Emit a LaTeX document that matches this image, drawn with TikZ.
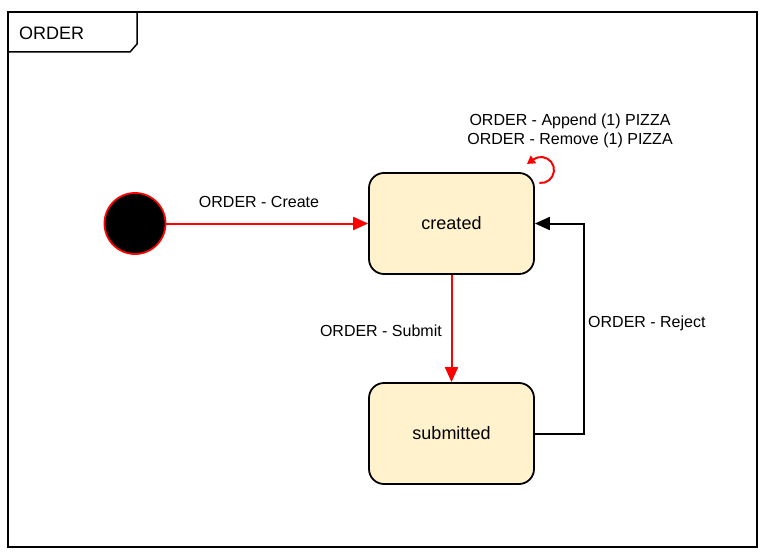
\documentclass[tikz,border=0pt]{standalone}
\usepackage{fontspec}
\setmainfont{Liberation Sans}
\usetikzlibrary{arrows.meta}
\definecolor{boxfill}{HTML}{FFF2CC}
\definecolor{arrred}{HTML}{FF0000}
\tikzset{
  statebox/.style={draw=black, line width=1.8pt, fill=boxfill, rounded corners=15pt,
    minimum width=165pt, minimum height=101pt, inner sep=0pt, font=\fontsize{18}{21}\selectfont},
  lbl/.style={font=\fontsize{16}{19}\selectfont, inner sep=0pt},
  redarrow/.style={draw=arrred, line width=2pt, -{Triangle[length=15pt,width=13pt]}},
  blackarrow/.style={draw=black, line width=2pt, -{Triangle[length=15pt,width=13pt]}},
}
\begin{document}
\begin{tikzpicture}[x=1pt,y=-1pt]
\useasboundingbox (0,0) rectangle (767,556);
% frame
\draw[line width=1.8pt] (8,12) rectangle (757,547);
\draw[line width=1.5pt] (8,52) -- (130,52) -- (137,44) -- (137,12);
\node[lbl, anchor=west, font=\fontsize{18}{21}\selectfont] (title) at (19,33) {ORDER};
% initial state
\node[circle, draw=arrred, fill=black, line width=1.8pt, minimum size=61pt, inner sep=0pt] (init) at (135,223.5) {};
% states
\node[statebox] (created) at (451.5,223.5) {created};
\node[statebox] (submitted) at (451.5,433.5) {submitted};
% transitions
\draw[redarrow] (init) -- (created);
\node[lbl] (lcreate) at (259,202) {ORDER - Create};
\draw[redarrow] (created) -- (submitted);
\node[lbl, anchor=east] (lsubmit) at (442,331) {ORDER - Submit};
\coordinate (rj1) at (584,433.5);
\coordinate (rj2) at (584,223.5);
\draw[blackarrow] (submitted.east) -- (rj1) -- (rj2) -- (created.east);
\node[lbl, anchor=west] (lreject) at (588,323.5) {ORDER - Reject};
% self loop
\coordinate (loopstart) at (539.4,182.9);
\draw[draw=arrred, line width=2pt, -{Triangle[length=8pt,width=9pt]}] (loopstart) arc (97:-125:13) -- ++(-6.6,4.6);
\node[lbl, align=center] (lself) at (570,131) {ORDER - Append (1) PIZZA\\[0pt]ORDER - Remove (1) PIZZA};
\end{tikzpicture}
\end{document}
